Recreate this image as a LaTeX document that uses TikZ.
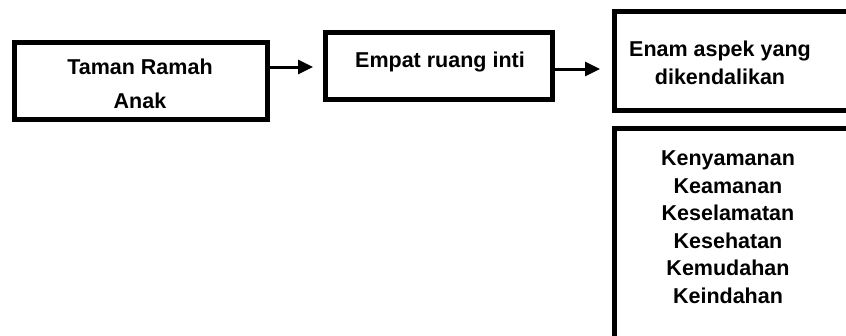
\documentclass[tikz,border=0pt]{standalone}
\usepackage{fontspec}
\setmainfont{Liberation Sans}
\usetikzlibrary{arrows.meta}
\begin{document}
\begin{tikzpicture}[x=1pt,y=-1pt,
  box/.style={draw=black,line width=5pt,fill=white,minimum width=#1,inner sep=0pt},
  lbl/.style={font=\fontsize{21.5}{29}\selectfont\bfseries,align=center,inner sep=0pt},
  arr/.style={line width=3pt,-{Triangle[length=15pt,width=14pt]}}]
\clip (0,0) rectangle (846,335);
\fill[white] (0,0) rectangle (846,335);
\node[box=253pt,minimum height=77pt] (b1) at (141,81) {};
\node[box=227pt,minimum height=67pt] (b2) at (439,66) {};
\node[box=300pt,minimum height=99pt,anchor=west] (b3) at (611.5,61) {};
\node[box=300pt,minimum height=280pt,anchor=north west] (b4) at (611.5,125.5) {};
\node[lbl,font=\fontsize{21.5}{34}\selectfont\bfseries] (t1) at (140,84) {Taman Ramah\\Anak};
\node[lbl] (t2) at (440,62) {Empat ruang inti};
\node[lbl,font=\fontsize{21.5}{28}\selectfont\bfseries] (t3) at (720,63) {Enam aspek yang\\dikendalikan};
\node[lbl,font=\fontsize{21.5}{27.5}\selectfont\bfseries] (t4) at (728,227) {Kenyamanan\\Keamanan\\Keselamatan\\Kesehatan\\Kemudahan\\Keindahan};
\coordinate (a1) at (313,67);
\coordinate (a2) at (600,69);
\draw[arr] (b1.east |- a1) -- (a1);
\draw[arr] (b2.east |- a2) -- (a2);
\end{tikzpicture}
\end{document}
